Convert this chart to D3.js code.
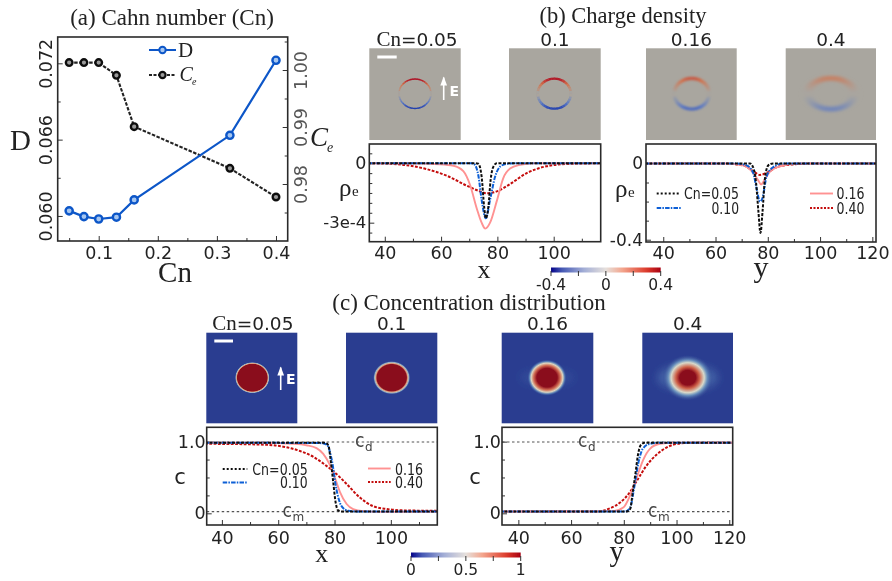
<!DOCTYPE html>
<html><head><meta charset="utf-8">
<script src="https://cdn.jsdelivr.net/npm/d3@7"></script>
<style>
html,body{margin:0;padding:0;background:#fff}
svg{display:block}
text{font-family:"DejaVu Sans",sans-serif;fill:#222}
.serif{font-family:"Liberation Serif",serif}
</style></head><body>
<script>
// ---------- Panel (a)
const cnValues=[0.05,0.075,0.1,0.13,0.16,0.322,0.4];
const diffD=[0.0604,0.05995,0.05976,0.0599,0.06126,0.06634,0.07224];
const coeffCe=[1.0013,1.0013,1.0013,0.99906,0.99006,0.98275,0.97772];
const cnMajor=[0.1,0.2,0.3,0.4], cnMinor=[0.05,0.15,0.25,0.35];
const dMajor=[0.060,0.066,0.072], dMinor=[0.063,0.069];
const ceMajor=[0.98,0.99,1.00], ceMinor=[0.975,0.985,0.995,1.005];

// ---------- Panel (b) rho_e vs x (units of 1e-4)
const rhoXBlackX=[34,72,73.25,74.4,75.3,75.9,76.8,77.6,78.6,79.8,117];
const rhoXBlackY=[0,0,-0.03,-0.67,-2.2,-2.78,-2.2,-0.84,-0.17,0,0];
const rhoXBlueX=[34,70.9,72,73.3,74.4,75.9,77.4,79.2,81,83.3,88,117];
const rhoXBlueY=[0,0,-0.08,-0.67,-1.85,-2.78,-1.85,-0.67,-0.17,-0.03,0,0];
const rhoXPinkX=[34,47.8,59.6,64.4,67.9,70.3,72.7,74.4,75.7,77.4,79.8,82.1,84.5,88,92.8,117];
const rhoXPinkY=[0,0,-0.05,-0.13,-0.4,-1.1,-2.3,-3,-3.3,-3,-1.9,-0.75,-0.27,-0.08,0,0];
const rhoXRedX=[34,41.9,47.8,54.9,62,69.1,73.8,76.2,79.8,84.5,90.4,97.5,104.6,117];
const rhoXRedY=[0,-0.03,-0.1,-0.3,-0.63,-1.13,-1.42,-1.52,-1.42,-1.05,-0.5,-0.15,-0.04,0];

// ---------- Panel (b) rho_e vs y
const rhoYBlackX=[33,73.2,74.4,75.5,76.4,77.2,78,78.9,80.2,82,122];
const rhoYBlackY=[0,0,-0.02,-0.1,-0.25,-0.365,-0.25,-0.08,-0.01,0,0];
const rhoYBlueX=[33,68,71.9,74.4,75.7,77,78,79.5,82,86,122];
const rhoYBlueY=[0,0,-0.01,-0.05,-0.13,-0.2,-0.18,-0.07,-0.02,0,0];
const rhoYPinkX=[33,64,70.6,74.4,76.4,77.4,79,81,84.6,91,122];
const rhoYPinkY=[0,0,-0.01,-0.05,-0.09,-0.11,-0.08,-0.04,-0.015,0,0];
const rhoYRedX=[33,61.7,70.6,74.4,77,79.5,83.4,89.7,98.7,122];
const rhoYRedY=[0,0,-0.01,-0.04,-0.06,-0.05,-0.02,-0.005,0,0];

// ---------- Panel (c) c vs x
const cXBlackX=[34,76.6,77.8,78.6,79.5,80.4,81.3,82.5,117];
const cXBlackY=[0.985,0.985,0.95,0.75,0.45,0.15,0.04,0.025,0.025];
const cXBlueX=[34,74.8,77.2,79,80.7,82.5,84.9,89,117];
const cXBlueY=[0.985,0.98,0.96,0.75,0.33,0.1,0.035,0.025,0.025];
const cXPinkX=[34,53.5,65.3,70,73.6,76,78.3,80.1,81.9,84.3,86.6,90.2,96,117];
const cXPinkY=[0.985,0.985,0.97,0.95,0.91,0.83,0.68,0.5,0.3,0.13,0.06,0.03,0.02,0.02];
const cXRedX=[34,53.5,61.8,67.7,72.4,77.2,79.5,84.3,89,93.7,98.5,105.6,117];
const cXRedY=[0.97,0.96,0.93,0.87,0.79,0.66,0.59,0.41,0.22,0.1,0.06,0.04,0.035];

// ---------- Panel (c) c vs y
const cYBlackX=[33,81,82.4,83.4,84.4,85.3,86.4,88,122];
const cYBlackY=[0.025,0.025,0.06,0.3,0.55,0.8,0.95,0.985,0.985];
const cYBlueX=[33,80.5,82.4,83.9,85.5,87.2,89.9,93.7,122];
const cYBlueY=[0.025,0.025,0.08,0.35,0.7,0.9,0.97,0.985,0.985];
const cYPinkX=[33,76,79.8,82.4,84.9,87.4,89.9,93.7,98.8,122];
const cYPinkY=[0.025,0.03,0.08,0.25,0.5,0.75,0.9,0.97,0.985,0.985];
const cYRedX=[33,69.7,74.8,78.6,82.4,84.9,88.7,92.5,96.3,101.3,106.4,122];
const cYRedY=[0.025,0.025,0.07,0.15,0.3,0.45,0.67,0.82,0.92,0.975,0.985,0.985];

// ---------- Images: charge rings, value by angle from the top in 10 degree steps
const chargeLabels=["0.05","0.1","0.16","0.4"];
const ringProfile=[1,0.98,0.9,0.78,0.62,0.45,0.3,0.18,0.08,0.02];
const ringPeak=[0.40,0.38,0.25,0.14];
// ---------- Images: radial concentration profiles
const discRadii=[[0,0.93,0.98,1.03,1.09],[0,0.88,0.96,1.03,1.12],[0,0.62,0.82,0.97,1.08,1.22],[0,0.48,0.72,1.0,1.18,1.55]];
const discValues=[[0.95,0.95,0.62,0.3,0],[0.95,0.95,0.6,0.28,0],[0.95,0.95,0.7,0.45,0.16,0],[0.95,0.95,0.72,0.42,0.2,0]];
const barCharge=[-0.4,-0.2,0,0.2,0.4], barConc=[0,0.25,0.5,0.75,1];

const W=892,H=581;
const svg=d3.select("body").append("svg").attr("width",W).attr("height",H);
const defs=svg.append("defs");
defs.append("filter").attr("id","soft").attr("x","-2%").attr("y","-2%").attr("width","104%").attr("height","104%")
  .append("feGaussianBlur").attr("stdDeviation",0.5);
[["b05",0.4],["b1",0.7],["b2",1.0],["b4",2.4],["b6",5]].forEach(([id,s])=>{
  defs.append("filter").attr("id",id).attr("x","-50%").attr("y","-50%").attr("width","200%").attr("height","200%")
    .append("feGaussianBlur").attr("stdDeviation",s);
});
const root=svg.append("g").attr("filter","url(#soft)");
root.append("rect").attr("width",W).attr("height",H).attr("fill","#fff");

const ringColor=d3.scaleLinear().domain([-0.4,-0.2,0,0.2,0.4]).range(["#2440ae","#5a78c4","#a9a69f","#d2714c","#ae1024"]);
const barChargeColor=d3.scaleLinear().domain([-0.4,-0.32,-0.16,0,0.12,0.3,0.4]).range(["#05058a","#4558b4","#a3aed6","#e6e0dc","#f3a68e","#dc3a2a","#a80012"]);
const concColor=d3.scaleLinear().domain([0,0.1,0.25,0.4,0.55,0.75,0.95]).range(["#2a3d90","#3f63a8","#80a8c8","#d5dcd0","#eec8a0","#c8503a","#8a0a1a"]);

function txt(g,x,y,s,size,opt={}){
  const t=g.append("text").attr("x",x).attr("y",y).attr("font-size",size).text(s);
  if(opt.serif)t.attr("class","serif");
  if(opt.anchor)t.attr("text-anchor",opt.anchor);
  if(opt.fill)t.style("fill",opt.fill);
  if(opt.italic)t.attr("font-style","italic");
  if(opt.weight)t.attr("font-weight",opt.weight);
  if(opt.len)t.attr("textLength",opt.len).attr("lengthAdjust","spacingAndGlyphs");
  return t;
}
let clipN=0;
function axisStyle(a,size,fill){
  a.select(".domain").remove();
  a.selectAll(".tick line").attr("stroke","#333").attr("stroke-width",1);
  a.selectAll("text").attr("font-size",size).style("font-family",'"DejaVu Sans",sans-serif').style("fill",fill||"#222");
}
function linePanel(p){
  const x=d3.scaleLinear().domain(p.xd).range([p.l,p.r]);
  const y=d3.scaleLinear().domain(p.yd).range([p.b,p.t]);
  const g=root.append("g");
  const id="cl"+(clipN++);
  defs.append("clipPath").attr("id",id).append("rect").attr("x",p.l).attr("y",p.t).attr("width",p.r-p.l).attr("height",p.b-p.t);
  const a=g.append("g").attr("transform",`translate(0,${p.b})`).call(d3.axisBottom(x).tickValues(p.xMaj).tickSize(-5).tickPadding(p.xPad||5).tickFormat(d3.format("d")));
  axisStyle(a,17.5);
  const a2=g.append("g").attr("transform",`translate(0,${p.b})`).call(d3.axisBottom(x).tickValues(p.xMin).tickSize(-3).tickFormat(""));
  axisStyle(a2,10);
  const b=g.append("g").attr("transform",`translate(${p.l},0)`).call(d3.axisLeft(y).tickValues(p.yMaj).tickSize(-5).tickPadding(p.pad||3).tickFormat(p.yFmt));
  axisStyle(b,p.ySize||17);
  const b2=g.append("g").attr("transform",`translate(${p.l},0)`).call(d3.axisLeft(y).tickValues(p.yMin).tickSize(-3).tickFormat(""));
  axisStyle(b2,10);
  const plot=g.append("g").attr("clip-path",`url(#${id})`);
  (p.refs||[]).forEach(v=>{
    plot.append("line").attr("x1",p.l).attr("x2",p.r).attr("y1",y(v)).attr("y2",y(v))
      .attr("stroke","#555").attr("stroke-width",1.1).attr("stroke-dasharray","2.5,2.5");
  });
  const gen=d3.line().x(d=>x(d[0])).y(d=>y(d[1])).curve(d3.curveMonotoneX);
  p.series.forEach(s=>{
    plot.append("path").attr("d",gen(d3.zip(s.x,s.y))).attr("fill","none")
      .attr("stroke",s.style.c).attr("stroke-width",s.style.w).attr("stroke-dasharray",s.style.d||null);
  });
  g.append("rect").attr("x",p.l).attr("y",p.t).attr("width",p.r-p.l).attr("height",p.b-p.t)
    .attr("fill","none").attr("stroke","#2a2a2a").attr("stroke-width",1.6);
  return {x,y,g};
}
const sBlack={c:"#111",w:2,d:"3,1.5"}, sBlue={c:"#0b5fd6",w:2,d:"4.5,1.2,1.5,1.2"},
      sPink={c:"#ff9292",w:1.9}, sRed={c:"#c40a0a",w:2,d:"2.8,1.5"};
function legendLine(g,x1,x2,y,s){
  g.append("line").attr("x1",x1).attr("x2",x2).attr("y1",y).attr("y2",y)
   .attr("stroke",s.c).attr("stroke-width",s.w).attr("stroke-dasharray",s.d||null);
}

// ===== Panel (a)
(function(){
  const l=57.7,r=287.7,t=37,b=241;
  const x=d3.scaleLinear().domain([0.0306,0.4198]).range([l,r]);
  const yD=d3.scaleLinear().domain([0.05803,0.07407]).range([b,t]);
  const yC=d3.scaleLinear().domain([0.97,1.00579]).range([b,t]);
  const g=root.append("g");
  const a=g.append("g").attr("transform",`translate(0,${b})`).call(d3.axisBottom(x).tickValues(cnMajor).tickSize(-5).tickPadding(6).tickFormat(d3.format(".1f")));
  axisStyle(a,17.5);
  const a2=g.append("g").attr("transform",`translate(0,${b})`).call(d3.axisBottom(x).tickValues(cnMinor).tickSize(-3).tickFormat(""));
  axisStyle(a2,10);
  const yl=g.append("g").attr("transform",`translate(${l},0)`).call(d3.axisLeft(yD).tickValues(dMajor).tickSize(-5).tickPadding(5).tickFormat(d3.format(".3f")));
  axisStyle(yl,17.5);
  yl.selectAll("text").attr("transform","rotate(-90)").attr("text-anchor","middle").attr("x",0).attr("y",-6).attr("dy",0);
  const yl2=g.append("g").attr("transform",`translate(${l},0)`).call(d3.axisLeft(yD).tickValues(dMinor).tickSize(-3).tickFormat(""));
  axisStyle(yl2,10);
  const yr=g.append("g").attr("transform",`translate(${r},0)`).call(d3.axisRight(yC).tickValues(ceMajor).tickSize(-5).tickFormat(d3.format(".2f")));
  axisStyle(yr,17.5,"#555");
  yr.selectAll("text").attr("transform","rotate(-90)").attr("text-anchor","middle").attr("x",0).attr("y",19).attr("dy",0);
  const yr2=g.append("g").attr("transform",`translate(${r},0)`).call(d3.axisRight(yC).tickValues(ceMinor).tickSize(-3).tickFormat(""));
  axisStyle(yr2,10);

  const lineD=d3.line().x((d,i)=>x(cnValues[i])).y(d=>yD(d));
  const lineC=d3.line().x((d,i)=>x(cnValues[i])).y(d=>yC(d));
  g.append("path").attr("d",lineC(coeffCe)).attr("fill","none").attr("stroke","#222").attr("stroke-width",2.1).attr("stroke-dasharray","3.5,1.5");
  g.append("path").attr("d",lineD(diffD)).attr("fill","none").attr("stroke","#0b56c8").attr("stroke-width",2.2);
  g.selectAll("circle.ce").data(coeffCe).join("circle").attr("class","ce").attr("cx",(d,i)=>x(cnValues[i])).attr("cy",d=>yC(d))
    .attr("r",3.3).attr("fill","#9a9a9a").attr("stroke","#111").attr("stroke-width",2.4);
  g.selectAll("circle.dd").data(diffD).join("circle").attr("class","dd").attr("cx",(d,i)=>x(cnValues[i])).attr("cy",d=>yD(d))
    .attr("r",3.6).attr("fill","#a6c6f0").attr("stroke","#0b56c8").attr("stroke-width",2.4);
  g.append("rect").attr("x",l).attr("y",t).attr("width",r-l).attr("height",b-t).attr("fill","none").attr("stroke","#2a2a2a").attr("stroke-width",1.6);
  // legend
  g.append("line").attr("x1",149).attr("x2",176).attr("y1",50).attr("y2",50).attr("stroke","#0b56c8").attr("stroke-width",2);
  g.append("circle").attr("cx",162.5).attr("cy",50).attr("r",3.2).attr("fill","#a6c6f0").attr("stroke","#0b56c8").attr("stroke-width",2);
  txt(g,178,56.5,"D",21,{serif:1});
  g.append("line").attr("x1",149).attr("x2",176).attr("y1",75).attr("y2",75).attr("stroke","#222").attr("stroke-width",2).attr("stroke-dasharray","3,1.5");
  g.append("circle").attr("cx",162.5).attr("cy",75).attr("r",3.1).attr("fill","#9a9a9a").attr("stroke","#111").attr("stroke-width",2.2);
  txt(g,179.5,81,"C",20,{serif:1,italic:1});
  txt(g,192,85,"e",10,{serif:1,italic:1});
  txt(g,10,150,"D",29,{serif:1});
  txt(g,175,282,"Cn",29,{serif:1,anchor:"middle"});
  txt(g,310,146,"C",27,{serif:1,italic:1});
  txt(g,327,152,"e",14,{serif:1,italic:1});
  txt(g,172,25,"(a) Cahn number (Cn)",23,{serif:1,anchor:"middle"});
})();

// ===== Images
function panelHead(g,cx,y,label,first){
  const t=g.append("text").attr("x",cx).attr("y",y).attr("text-anchor","middle");
  if(first) t.append("tspan").attr("class","serif").attr("font-size",21).text("Cn");
  t.append("tspan").attr("font-size",18.5).text((first?"=":"")+label);
}
function scaleAndArrow(g,bx1,bx2,by,ax,ay1,ay2,ex,ey){
  g.append("line").attr("x1",bx1).attr("x2",bx2).attr("y1",by).attr("y2",by).attr("stroke","#fff").attr("stroke-width",3);
  g.append("line").attr("x1",ax).attr("x2",ax).attr("y1",ay1).attr("y2",ay2).attr("stroke","#fff").attr("stroke-width",1.6);
  g.append("path").attr("d",d3.line()([[ax-3.4,ay2+8],[ax,ay2-1],[ax+3.4,ay2+8]])).attr("fill","#fff");
  txt(g,ex,ey,"E",14,{fill:"#fff",weight:"bold"});
}
const ringBoxes=[[369.3,460.7],[509,600.7],[646,736.7],[785.7,876]];
const ringCx=[415,554.3,691.7,831], ringRx=[16,16.6,17.5,23], ringRy=[14.7,15,15.3,15.5],
      ringW=[1.6,2.6,3.6,7], ringBlur=["b05","b1","b2","b4"];
(function(){
  const g=root.append("g"), by1=48.3, by2=140;
  ringBoxes.forEach((bx,i)=>{
    g.append("rect").attr("x",bx[0]).attr("y",by1).attr("width",bx[1]-bx[0]).attr("height",by2-by1).attr("fill","#a9a69f");
    panelHead(g,(bx[0]+bx[1])/2+(i==0?2:0),45.5,chargeLabels[i],i==0);
    const c=g.append("g").attr("transform",`translate(${ringCx[i]},93.7) scale(1,${ringRy[i]/ringRx[i]})`).attr("filter",`url(#${ringBlur[i]})`);
    const arc=d3.arc().innerRadius(ringRx[i]-ringW[i]/2).outerRadius(ringRx[i]+ringW[i]/2);
    const step=Math.PI/18;
    [1,-1].forEach(side=>{
      ringProfile.forEach((v,k)=>{
        const q=ringPeak[i]*v;
        const a0=side*k*step, a1=side*(k+1)*step;
        c.append("path").attr("d",arc({startAngle:Math.min(a0,a1)-0.01,endAngle:Math.max(a0,a1)+0.01})).attr("fill",ringColor(q));
        const b0=side*(Math.PI-k*step), b1=side*(Math.PI-(k+1)*step);
        c.append("path").attr("d",arc({startAngle:Math.min(b0,b1)-0.01,endAngle:Math.max(b0,b1)+0.01})).attr("fill",ringColor(-q));
      });
    });
  });
  scaleAndArrow(g,377.3,396.7,57,443.7,100,77.5,449.5,95.5);
})();
const discBoxes=[[206.3,297.3],[346,437.3],[501.7,593.3],[642.3,733]];
const discCx=[252.3,391.7,547,687.7], discRx=[16,16.7,16.3,16.5], discRy=[14.5,15,15,15];
(function(){
  const g=root.append("g"), by1=332.7, by2=423.3;
  discBoxes.forEach((bx,i)=>{
    g.append("rect").attr("x",bx[0]).attr("y",by1).attr("width",bx[1]-bx[0]).attr("height",by2-by1).attr("fill",concColor(0));
    panelHead(g,(bx[0]+bx[1])/2+(i==0?1:0),330,chargeLabels[i],i==0);
    const outer=discRadii[i][discRadii[i].length-1];
    const grad=defs.append("radialGradient").attr("id","disc"+i);
    discRadii[i].forEach((r,k)=>{
      grad.append("stop").attr("offset",r/outer).attr("stop-color",concColor(discValues[i][k]))
        .attr("stop-opacity",discValues[i][k]===0?0:1);
    });
    if(i>=2){
      g.append("ellipse").attr("cx",discCx[i]).attr("cy",377.7).attr("rx",i==3?30:28).attr("ry",i==3?12:9)
       .attr("fill",i==3?"#5a86bc":"#3d5ca4").attr("opacity",i==3?0.6:0.45).attr("filter","url(#b6)");
    }
    g.append("ellipse").attr("cx",discCx[i]).attr("cy",377.7).attr("rx",discRx[i]*outer).attr("ry",discRy[i]*outer).attr("fill",`url(#disc${i})`);
  });
  scaleAndArrow(g,214.3,233,341,280.7,390,367.5,286,383.5);
})();

// ===== Line panels
const bL=linePanel({l:369.3,r:600.7,t:144,b:241.7,xd:[34.5,116.7],yd:[-3.96,0.97],xMaj:[40,60,80,100],xMin:[50,70,90,110],
  yMaj:[0,-3],yMin:[0.5,-0.5,-1,-1.5,-2,-2.5,-3.5],yFmt:d=>d===0?"0":"-3e-4",ySize:16.5,pad:0,
  series:[{x:rhoXRedX,y:rhoXRedY,style:sRed},{x:rhoXPinkX,y:rhoXPinkY,style:sPink},{x:rhoXBlueX,y:rhoXBlueY,style:sBlue},{x:rhoXBlackX,y:rhoXBlackY,style:sBlack}]});
bL.g.selectAll("text").filter(function(){return this.textContent==="0"}).attr("font-size",17.5);
txt(root,339,196,"ρ",25,{serif:1});
txt(root,352,196,"e",15,{serif:1});
txt(root,484,278,"x",26,{serif:1,anchor:"middle"});

const bR=linePanel({l:646,r:876,t:144,b:242,xd:[33.4,121.4],yd:[-0.412,0.102],xMaj:[40,60,80,100,120],xMin:[50,70,90,110],
  yMaj:[0,-0.4],yMin:[-0.1,-0.2,-0.3],yFmt:d=>d===0?"0":"-0.4",ySize:17,pad:0,
  series:[{x:rhoYRedX,y:rhoYRedY,style:sRed},{x:rhoYPinkX,y:rhoYPinkY,style:sPink},{x:rhoYBlueX,y:rhoYBlueY,style:sBlue},{x:rhoYBlackX,y:rhoYBlackY,style:sBlack}]});
txt(root,615,197,"ρ",25,{serif:1});
txt(root,628,197,"e",15,{serif:1});
txt(root,761,277,"y",30,{serif:1,anchor:"middle"});
const legDot={c:"#111",w:1.8,d:"2,2"}, legRed={c:"#c40a0a",w:1.9,d:"2,1.5"};
legendLine(root,656.7,680.7,193.5,legDot);
txt(root,684,199,"Cn=0.05",15.5,{len:55});
legendLine(root,656.7,680.7,208,sBlue);
txt(root,711.5,213.5,"0.10",15.5,{len:27.5});
legendLine(root,810,833,193.5,sPink);
txt(root,836.5,199,"0.16",15.5,{len:28});
legendLine(root,810,833,208,legRed);
txt(root,836.5,213.5,"0.40",15.5,{len:28});

const cMaj=[0,1], cMin=[0.25,0.5,0.75];
const cFmt=d=>d===0?"0":"1.0";
linePanel({l:206.7,r:437.3,t:427.3,b:525,xd:[34.6,116.5],yd:[-0.163,1.2],xMaj:[40,60,80,100],xMin:[50,70,90,110],
  yMaj:cMaj,yMin:cMin,yFmt:cFmt,ySize:17.5,pad:1,xPad:7,refs:[0.995,0.023],
  series:[{x:cXRedX,y:cXRedY,style:sRed},{x:cXPinkX,y:cXPinkY,style:sPink},{x:cXBlueX,y:cXBlueY,style:sBlue},{x:cXBlackX,y:cXBlackY,style:sBlack}]});
linePanel({l:502,r:732.7,t:427.3,b:525,xd:[33.8,121.3],yd:[-0.163,1.2],xMaj:[40,60,80,100,120],xMin:[50,70,90,110],
  yMaj:cMaj,yMin:cMin,yFmt:cFmt,ySize:17.5,pad:1,xPad:7,refs:[0.995,0.023],
  series:[{x:cYRedX,y:cYRedY,style:sRed},{x:cYPinkX,y:cYPinkY,style:sPink},{x:cYBlueX,y:cYBlueY,style:sBlue},{x:cYBlackX,y:cYBlackY,style:sBlack}]});
function cLabel(x,y,sub){
  txt(root,x,y,"c",20,{fill:"#444",len:9.5});
  txt(root,x+10,y+4,sub,12,{fill:"#444"});
}
cLabel(355,447,"d"); cLabel(282.5,517,"m"); cLabel(578,447,"d"); cLabel(648,517,"m");
txt(root,180,483.5,"c",21,{anchor:"middle"});
txt(root,475,483.5,"c",21,{anchor:"middle"});
txt(root,321.7,562,"x",26,{serif:1,anchor:"middle"});
txt(root,616.7,561,"y",29,{serif:1,anchor:"middle"});
legendLine(root,222.7,247.3,469,legDot);
txt(root,252.3,474.5,"Cn=0.05",15.5,{len:55.4});
legendLine(root,222.7,247.3,482.5,sBlue);
txt(root,280,488,"0.10",15.5,{len:27.7});
legendLine(root,368,390.7,468.5,sPink);
txt(root,395,474.5,"0.16",15.5,{len:28});
legendLine(root,368,390.7,482,legRed);
txt(root,395,488,"0.40",15.5,{len:28});

// ===== Titles
txt(root,623,23,"(b) Charge density",22.5,{serif:1,anchor:"middle"});
txt(root,469,310,"(c) Concentration distribution",23,{serif:1,anchor:"middle"});

// ===== Colour bars
function colorbar(id,x1,x2,y1,y2,vals,color,labelY,size,fmt,labeled){
  const s=d3.scaleLinear().domain([vals[0],vals[vals.length-1]]).range([x1,x2]);
  const grad=defs.append("linearGradient").attr("id",id);
  d3.range(0,21).forEach(i=>{
    const v=vals[0]+(vals[4]-vals[0])*i/20;
    grad.append("stop").attr("offset",i/20).attr("stop-color",color(v));
  });
  root.append("rect").attr("x",x1).attr("y",y1).attr("width",x2-x1).attr("height",y2-y1).attr("fill",`url(#${id})`);
  root.selectAll(null).data(vals).join("line").attr("x1",d=>s(d)).attr("x2",d=>s(d)).attr("y1",y2-1.5).attr("y2",y2+3.5)
    .attr("stroke","#333").attr("stroke-width",1);
  root.selectAll(null).data(labeled).join("text").attr("x",d=>s(d)).attr("y",labelY).attr("text-anchor","middle").attr("font-size",size).text(fmt);
}
colorbar("barA",551,660.7,267.5,272.5,barCharge,barChargeColor,290,15.5,d=>d===0?"0":(d<0?"-":"")+Math.abs(d).toFixed(1),[-0.4,0,0.4]);
const barConcScale=d3.scaleLinear().domain([0,1]).range([-0.4,0.4]);
colorbar("barB",411,520.7,552.5,557.5,barConc,v=>barChargeColor(barConcScale(v)),575,15.5,d=>String(d),[0,0.5,1]);
</script>
</body></html>
